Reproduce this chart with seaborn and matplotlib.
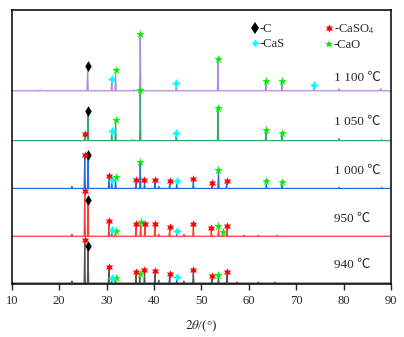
import numpy as np
import pandas as pd
import matplotlib
matplotlib.use('Agg')
import matplotlib.pyplot as plt
from matplotlib.lines import Line2D
import seaborn as sns

# peak positions (2theta), heights and phase for each temperature
pos_940 = [22.7, 25.4, 26.1, 30.5, 31.1, 31.9, 36.2, 37.0, 38.0, 40.2, 41.0, 43.3, 44.8, 46.3, 48.3, 52.2, 53.6, 55.4, 57.5, 62.0, 65.5]
int_940 = [2, 40, 34, 13, 2, 2, 8, 6, 10, 9, 3, 6, 3, 2, 10, 4, 5, 8, 1, 1, 1]
phase_940 = [None, 'CaSO4', 'C', 'CaSO4', 'CaS', 'CaO', 'CaSO4', 'CaO', 'CaSO4', 'CaSO4', None, 'CaSO4', 'CaS', None, 'CaSO4', 'CaSO4', 'CaO', 'CaSO4', None, None, None]

pos_950 = [22.7, 25.4, 26.1, 30.5, 31.1, 31.9, 36.2, 37.2, 38.1, 40.2, 41.0, 43.3, 44.8, 46.3, 48.3, 52.1, 53.6, 54.6, 55.4, 59.0, 62.0, 66.0]
int_950 = [2, 42, 33, 12, 3, 2, 9, 11, 9, 9, 2, 6, 2, 2, 9, 5, 7, 1, 7, 1, 1, 1]
phase_950 = [None, 'CaSO4', 'C', 'CaSO4', 'CaS', 'CaO', 'CaSO4', 'CaO', 'CaSO4', 'CaSO4', None, 'CaSO4', 'CaS', None, 'CaSO4', 'CaSO4', 'CaO', 'CaO', 'CaSO4', None, None, None]

pos_1000 = [22.7, 25.4, 26.1, 30.5, 31.1, 31.9, 36.2, 37.1, 38.0, 40.2, 41.0, 43.3, 44.8, 48.3, 52.2, 53.6, 55.3, 63.7, 67.0, 79.0, 88.0]
int_1000 = [2, 31, 31, 9, 5, 8, 5, 24, 5, 5, 2, 4, 4, 6, 2, 16, 4, 4, 3, 1, 1]
phase_1000 = [None, 'CaSO4', 'C', 'CaSO4', 'CaS', 'CaO', 'CaSO4', 'CaO', 'CaSO4', 'CaSO4', None, 'CaSO4', 'CaS', 'CaSO4', 'CaSO4', 'CaO', 'CaSO4', 'CaO', 'CaO', None, None]

pos_1050 = [25.4, 26.1, 31.1, 31.9, 35.5, 37.1, 44.7, 53.5, 63.6, 67.0, 79.0, 88.0]
int_1050 = [4, 27, 7, 18, 1, 48, 5, 30, 8, 5, 2, 1]
phase_1050 = ['CaSO4', 'C', 'CaS', 'CaO', None, 'CaO', 'CaS', 'CaO', 'CaO', 'CaO', None, None]

pos_1100 = [16.0, 26.0, 31.1, 31.9, 35.8, 37.1, 44.7, 53.5, 63.6, 67.0, 73.7, 79.0, 87.8]
int_1100 = [1, 22, 9, 18, 1, 54, 5, 29, 7, 7, 3, 2, 2]
phase_1100 = [None, 'C', 'CaS', 'CaO', None, 'CaO', 'CaS', 'CaO', 'CaO', 'CaO', 'CaS', None, None]

temps = ['940 ℃', '950 ℃', '1 000 ℃', '1 050 ℃', '1 100 ℃']

# layout / style
offsets = [0, 47, 95, 143, 193]
label_y = [18, 64, 113, 162, 206]
line_colors = ['#555555', '#ff3b3b', '#2a68e0', '#3aa86a', '#b388e0']
phase_style = {
    'C': dict(marker='d', color='black', s=30),
    'CaSO4': dict(marker=(6, 1, 0), color='#ff0000', s=36),
    'CaS': dict(marker=(4, 1, 0), color='#00ffff', s=42),
    'CaO': dict(marker='*', color='#00ee00', s=42),
}

rows = []
for t, p, h, ph in zip(temps,
                       [pos_940, pos_950, pos_1000, pos_1050, pos_1100],
                       [int_940, int_950, int_1000, int_1050, int_1100],
                       [phase_940, phase_950, phase_1000, phase_1050, phase_1100]):
    for a, b, c in zip(p, h, ph):
        rows.append((t, a, b, c))
peaks = pd.DataFrame(rows, columns=['temp', 'pos', 'height', 'phase'])

sns.set_style('white')
plt.rcParams['font.family'] = ['Liberation Serif', 'Noto Sans CJK SC']
plt.rcParams['mathtext.fontset'] = 'stix'

fig = plt.figure(figsize=(4.04, 3.37), dpi=100)
ax = fig.add_axes([0.029, 0.157, 0.939, 0.813])

w = 0.13
for i, t in enumerate(temps):
    d = peaks[peaks['temp'] == t].sort_values('pos')
    xs = [10.0]
    ys = [0.0]
    for a, b in zip(d['pos'], d['height']):
        xs += [a - w, a, a + w]
        ys += [0, b, 0]
    xs.append(90.0)
    ys.append(0.0)
    ys = np.array(ys) + offsets[i]
    sns.lineplot(x=xs, y=ys, color=line_colors[i], lw=0.9, estimator=None, sort=False, ax=ax)
    lab = d.dropna(subset=['phase'])
    for ph, g in lab.groupby('phase'):
        st = phase_style[ph]
        sns.scatterplot(x=g['pos'], y=g['height'] + offsets[i] + 3, marker=st['marker'],
                        color=st['color'], s=st['s'], linewidth=0, ax=ax, zorder=5)
    ax.text(78.0, label_y[i], t, ha='left', va='center', fontsize=9.5)

ax.set_xlim(10, 90)
ax.set_ylim(-1, 274)
ax.set_yticks([])
ax.set_xticks(range(10, 91, 10))
ax.tick_params(axis='x', direction='out', length=4, width=1, labelsize=9, pad=4, bottom=True)
for s in ax.spines.values():
    s.set_linewidth(1.1)
    s.set_color('black')
ax.set_xlabel(r'$\mathit{2\theta}$/(°)', fontsize=9.5, labelpad=8)
ax.set_ylabel('')

handles = [Line2D([], [], ls='', marker=phase_style[k]['marker'], color=phase_style[k]['color'],
                  markersize=6, markeredgewidth=0) for k in ['C', 'CaS', 'CaSO4', 'CaO']]
labels = ['-C', '-CaS', '-CaSO$_4$', '-CaO']
ax.legend(handles, labels, ncol=2, frameon=False, loc='upper right', bbox_to_anchor=(0.985, 0.997),
          handlelength=0.6, handletextpad=0.1, columnspacing=3.2, labelspacing=0.25, fontsize=9)

fig.savefig('out.png', dpi=100)
